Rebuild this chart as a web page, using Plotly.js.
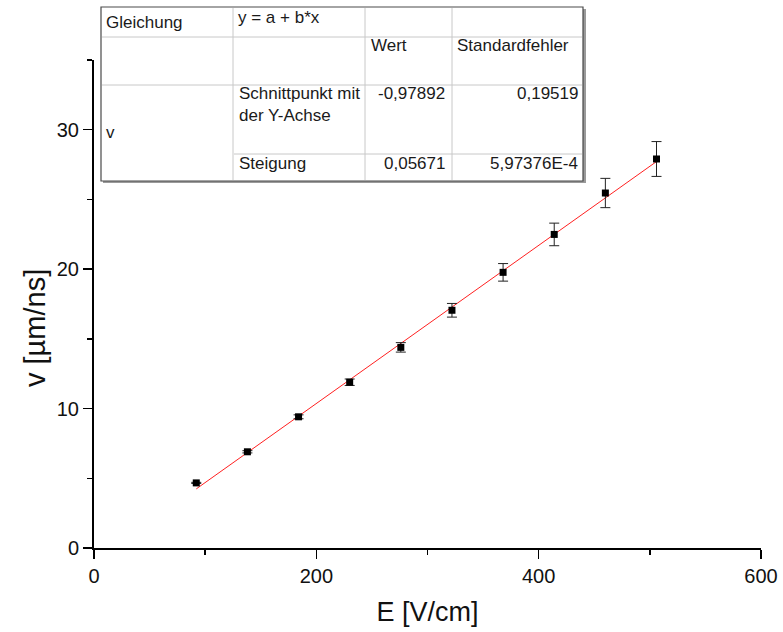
<!DOCTYPE html>
<html>
<head>
<meta charset="utf-8">
<script src="https://cdn.plot.ly/plotly-3.0.1.min.js"></script>
<style>html,body{margin:0;padding:0;background:#fff;}#chart{width:783px;height:632px;}</style>
</head>
<body>
<div id="chart"></div>
<script>
// Data
const E_field = [92, 138, 184, 230, 276, 322, 368, 414, 460, 506];
const velocity = [4.67, 6.90, 9.41, 11.89, 14.39, 17.05, 19.77, 22.49, 25.46, 27.90];
const velocityErr = [0.04, 0.08, 0.14, 0.23, 0.34, 0.49, 0.63, 0.81, 1.05, 1.25];
// Fit parameters shown in the table
const fitIntercept = -0.97892;
const fitSlope = 0.05671;
const tableHeader = ["Gleichung", "y = a + b*x", "Wert", "Standardfehler"];
const tableRowLabels = ["Schnittpunkt mit", "der Y-Achse", "Steigung"];
const tableValues = ["-0,97892", "0,19519", "0,05671", "5,97376E-4"];
const seriesName = "v";
const xTitle = "E [V/cm]";
const yTitle = "v [µm/ns]";

const xMin = Math.min(...E_field), xMax = Math.max(...E_field);
const fitX = [xMin, xMax];
const fitY = fitX.map(x => fitIntercept + fitSlope * x);

// layout geometry
const W = 783, H = 632;
const M = {l: 94, r: 22, t: 60, b: 84};
const PW = W - M.l - M.r, PH = H - M.t - M.b;
const px = x => (x - M.l) / PW;
const py = y => (H - M.b - y) / PH;

const font = "Liberation Sans, Arial, sans-serif";
const tcol = "#1a1a1a";

const shapes = [];
// shadow
shapes.push({type:'rect', xref:'paper', yref:'paper', x0:px(103), x1:px(586), y0:py(9), y1:py(183), fillcolor:'#9a9a9a', line:{width:0}, layer:'above'});
shapes.push({type:'rect', xref:'paper', yref:'paper', x0:px(101), x1:px(583), y0:py(7), y1:py(181), fillcolor:'#ffffff', line:{color:'#4a4a4a', width:1.2}, layer:'above'});
const inner = {color:'#c8c8c8', width:1};
[[101,583,37],[101,583,85],[233,583,154]].forEach(([a,b,y]) => shapes.push({type:'line', xref:'paper', yref:'paper', x0:px(a+1), x1:px(b-1), y0:py(y), y1:py(y), line:inner, layer:'above'}));
[233,365,452].forEach(x => shapes.push({type:'line', xref:'paper', yref:'paper', x0:px(x), x1:px(x), y0:py(8), y1:py(180), line:inner, layer:'above'}));

function ann(text, x, y, anchor) {
  return {text: text, xref:'paper', yref:'paper', x:px(x), y:py(y), xanchor:anchor||'left', yanchor:'middle', showarrow:false, font:{family:font, size:17, color:tcol}};
}
const annotations = [
  ann(tableHeader[0], 104, 22),
  ann(tableHeader[1], 236, 18),
  ann(tableHeader[2], 369, 46),
  ann(tableHeader[3], 455, 46),
  ann(tableRowLabels[0], 237, 93),
  ann(tableRowLabels[1], 237, 115),
  ann(tableValues[0], 447, 93, 'right'),
  ann(tableValues[1], 580, 93, 'right'),
  ann(seriesName, 104, 132),
  ann(tableRowLabels[2], 237, 163),
  ann(tableValues[2], 447, 163, 'right'),
  ann(tableValues[3], 580, 163, 'right'),
  {text: yTitle, xref:'paper', yref:'paper', x:px(35), y:py(328), xanchor:'center', yanchor:'middle', textangle:-90, showarrow:false, font:{family:font, size:29, color:'#111'}}
];

const traces = [
  {x: fitX, y: fitY, mode:'lines', type:'scatter', line:{color:'#ff2020', width:1}, hoverinfo:'skip'},
  {x: E_field, y: velocity, mode:'markers', type:'scatter',
   marker:{symbol:'square', size:7, color:'#000'},
   error_y:{type:'data', array: velocityErr, visible:true, color:'#222', thickness:1, width:5}}
];

const axisCommon = {
  showgrid:false, zeroline:false, showline:true, linecolor:'#000', linewidth:2,
  ticks:'outside', ticklen:9, tickwidth:1.5, tickcolor:'#000',
  tickfont:{family:font, size:20, color:'#111'},
  minor:{ticks:'outside', ticklen:5, tickwidth:1.5, tickcolor:'#000', showgrid:false}
};

const layout = {
  width:W, height:H, margin:M, showlegend:false,
  paper_bgcolor:'#fff', plot_bgcolor:'#fff',
  xaxis: Object.assign({}, axisCommon, {range:[0,600], dtick:200, minor:Object.assign({}, axisCommon.minor, {dtick:100}),
     title:{text:xTitle, font:{family:font, size:27, color:'#111'}, standoff:16}}),
  yaxis: Object.assign({}, axisCommon, {range:[0,35], dtick:10, minor:Object.assign({}, axisCommon.minor, {dtick:5})}),
  shapes: shapes,
  annotations: annotations
};

Plotly.newPlot('chart', traces, layout, {displayModeBar:false, staticPlot:true});
</script>
</body>
</html>
